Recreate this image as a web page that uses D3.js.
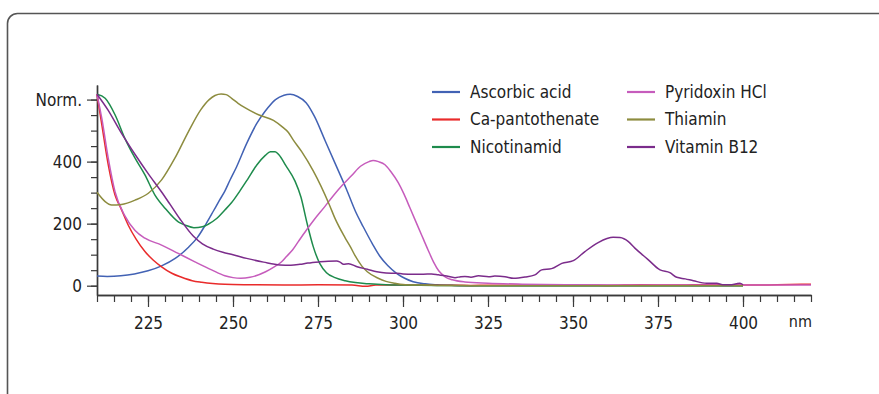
<!DOCTYPE html>
<html><head><meta charset="utf-8">
<script src="https://cdn.jsdelivr.net/npm/d3@7"></script>
<style>
html,body{margin:0;padding:0;background:#fff;}
svg text{font-family:"Liberation Sans Narrow","DejaVu Sans Condensed","Arial Narrow",sans-serif;fill:#222;}
</style></head>
<body>
<svg id="chart" width="879" height="394"></svg>
<script>
// ---- data (wavelength nm, normalized absorbance) ----
const seriesNames = ["Ascorbic acid","Ca-pantothenate","Nicotinamid","Pyridoxin HCl","Thiamin","Vitamin B12"];
const seriesColors = ["#4262b4","#e92b2b","#1e8b4c","#c65cbc","#8d8c3f","#7b2c8b"];

const ascorbic = [[210,31],[213,30],[217,32],[221,38],[225,48],[229,64],[233,88],[237,125],[239.5,155],[242,198],[244.2,240],[246,275],[247.6,305],[249.1,340],[251,382],[254,458],[257,523],[259.5,563],[262.5,600],[265,614],[266.8,617],[269,610],[271.5,590],[274,545],[277,470],[280,395],[283.4,310],[286,240],[288.3,190],[291,135],[293.2,95],[295.5,65],[298.1,40],[300.5,24],[303,13],[306.5,6],[310,3],[315,1],[320,0],[400,0]];
const capanto = [[210,617],[211.4,520],[213.3,390],[215.3,292],[217,250],[219.2,195],[221.5,150],[224.1,110],[226.5,83],[229,61],[232,40],[234.9,27],[238,16],[240.8,11],[244,7],[247.6,4.5],[255,3],[265,2],[275,3],[285,2],[289,-2],[292,2],[300,2],[320,1],[340,2],[360,1],[370,3],[380,2],[390,4],[400,2],[410,3],[420,5]];
const nicotin = [[210,617],[212.4,604],[215.3,551],[218.2,475],[221.2,411],[224.1,357],[227,293],[230,250],[234,205],[236,195],[238.5,187],[241,190],[242.7,198],[245,215],[247.6,244],[249.6,268],[252,305],[254.3,343],[257,389],[259.5,420],[261,432],[262.4,432],[263.5,422],[265.5,388],[268.2,338],[270,285],[271.7,205],[273.6,126],[275.5,72],[277.5,42],[280,26],[283,16],[286,10],[290,6],[295,3],[300,2],[310,1],[320,0],[400,0]];
const pyridox = [[210,617],[211.4,540],[213.3,411],[215.3,303],[218.2,225],[221.2,178],[224.1,153],[229,131],[233.9,104],[238.8,77],[243.7,51],[247.6,32],[250,26],[252.3,24],[255,27],[259.6,45],[262,60],[264.3,77],[265.8,95],[267.5,115],[269.2,142],[271.5,178],[273.8,212],[277,255],[279.5,290],[282,322],[284.9,355],[287.5,385],[290,400],[291.2,404],[292.8,400],[294.7,390],[296.4,368],[298.6,332],[300.3,295],[302,252],[304.5,188],[306,150],[307.5,112],[309,76],[310.5,48],[312.5,28],[314.5,19],[318.2,12],[325,8],[335,5],[350,3],[370,2],[390,2],[420,2]];
const thiamin = [[210,301],[212.4,271],[214.3,260],[217.2,262],[221.2,276],[225.1,298],[229,341],[232.9,411],[236.9,497],[240.5,567],[243,600],[244.7,613],[246.5,618],[248,616],[249.6,604],[251.5,588],[253.5,574],[257.5,551],[261.9,533],[264.5,512],[266.3,494],[267.7,470],[270.2,432],[273.6,370],[278.3,262],[280,217],[282.9,156],[284.5,126],[286,95],[287.9,63],[289.5,45],[292.7,24],[295,14],[297.6,8],[300,4],[305,2],[310,1],[320,0],[400,0]];
const vitb12 = [[210,617],[213.3,565],[217,495],[221.5,418],[225,362],[229,302],[231.5,262],[234.4,215],[238.3,160],[241,135],[244.2,118],[247,108],[250,100],[254,88],[259,76],[263.8,67],[267,66],[269.7,69],[272,73],[275.6,77],[278,79],[280.5,80],[281.5,76],[282.5,69],[284,71],[286.5,61],[289.5,53],[292.3,45],[295,41],[298.1,40],[300,38],[303,37],[306,37],[308.4,38],[310.4,35],[312.4,32],[315.3,26],[317,29],[318.2,30],[320,27],[322.2,32],[325.2,29],[327,31],[330,29],[332.5,24],[335.9,28],[338.8,35],[340.8,51],[343.7,55],[346.7,72],[350.1,81],[353.5,110],[357.4,139],[360,152],[361.8,156],[363.8,155],[366.3,142],[368.2,121],[372,85],[375.6,51],[378.5,42],[380.5,27],[383,22],[385.4,16],[389.3,8],[392.3,8],[394,3],[396.2,3],[398,6],[399.1,8],[400,3]];
const seriesData = [ascorbic, capanto, nicotin, pyridox, thiamin, vitb12];

const xMajorTicks = [225,250,275,300,325,350,375,400];
const yMajorTicks = [0,200,400,600];
const yTickLabels = ["0","200","400","Norm."];
const xUnit = "nm";

// ---- drawing ----
const svg = d3.select("#chart");
const fs = 17;

// card frame
svg.append("rect").attr("x",7.5).attr("y",13.5).attr("width",1000).attr("height",600)
  .attr("rx",10).attr("fill","none").attr("stroke","#555").attr("stroke-width",1.6);

const x = d3.scaleLinear().domain([210,420]).range([97,811]);
const y = d3.scaleLinear().domain([-30,647]).range([295,85]);

const axisColor = "#3a3a3a";
function styleAxis(g){
  g.selectAll("path.domain").attr("stroke",axisColor).attr("stroke-width",1.4);
  g.selectAll(".tick line").attr("stroke",axisColor).attr("stroke-width",1.2);
}

// Y axis minor
const yMinor = d3.range(0,601,50);
const gyMinor = svg.append("g").attr("transform","translate(97,0)")
  .call(d3.axisLeft(y).tickValues(yMinor).tickSize(6).tickSizeOuter(0).tickFormat(""));
styleAxis(gyMinor);
const gy = svg.append("g").attr("transform","translate(97,0)")
  .call(d3.axisLeft(y).tickValues(yMajorTicks).tickSize(10).tickSizeOuter(0).tickPadding(5)
  .tickFormat((d,i)=>yTickLabels[i]));
styleAxis(gy);
gy.selectAll("text").attr("font-size",fs).attr("fill","#222").attr("font-family",null);

// X axis
const xMinor = d3.range(210,421,5);
const gxMinor = svg.append("g").attr("transform","translate(0,295)")
  .call(d3.axisBottom(x).tickValues(xMinor).tickSize(7).tickSizeOuter(0).tickFormat(""));
styleAxis(gxMinor);
const gx = svg.append("g").attr("transform","translate(0,295)")
  .call(d3.axisBottom(x).tickValues(xMajorTicks).tickSize(12).tickSizeOuter(0));
styleAxis(gx);
gx.selectAll("text").attr("y",28).attr("dy","0.35em").attr("font-size",fs)
  .attr("fill","#222").attr("font-family",null);

svg.append("text").attr("x",812).attr("y",321).attr("dy","0.35em").attr("text-anchor","end")
  .attr("font-size",16).text(xUnit);

// lines
const line = d3.line().x(d=>x(d[0])).y(d=>y(d[1])).curve(d3.curveMonotoneX);
seriesData.forEach((s,i)=>{
  svg.append("path").datum(s).attr("d",line).attr("fill","none")
    .attr("stroke",seriesColors[i]).attr("stroke-width",1.5).attr("stroke-linejoin","round");
});

// legend
const legX = [432,627];
seriesNames.forEach((n,i)=>{
  const col = Math.floor(i/3), row = i%3;
  const yy = 92 + row*27.5;
  const g = svg.append("g");
  g.append("line").attr("x1",legX[col]).attr("x2",legX[col]+28).attr("y1",yy).attr("y2",yy)
    .attr("stroke",seriesColors[i]).attr("stroke-width",2.2);
  g.append("text").attr("x",legX[col]+38).attr("y",yy).attr("dy","0.35em")
    .attr("font-size",fs).text(n);
});
</script>
</body></html>
